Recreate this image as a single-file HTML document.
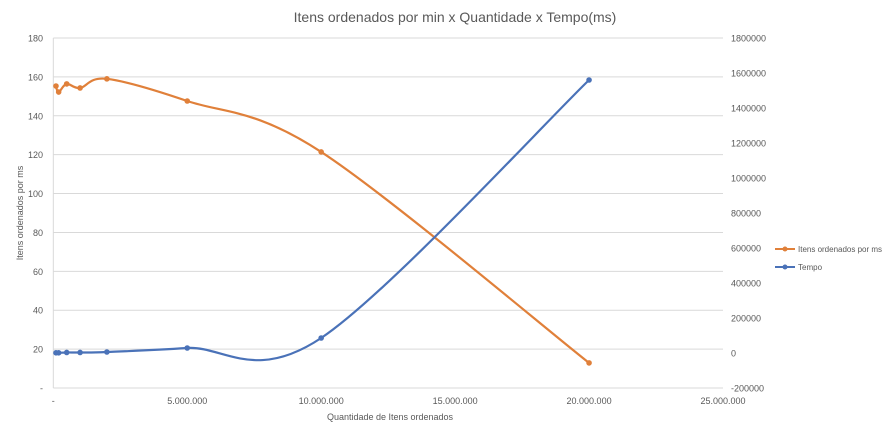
<!DOCTYPE html>
<html><head><meta charset="utf-8"><style>
body{margin:0;background:#fff;font-family:"Liberation Sans",sans-serif}
svg text{font-family:"Liberation Sans",sans-serif;fill:#595959}
</style></head><body>
<svg id="c" width="896" height="435"></svg>
<script>
const xValues=[100000,200000,500000,1000000,2000000,5000000,10000000,20000000];
const itensValues=[155.3,152.2,156.4,154.3,159,147.6,121.4,12.9];
const tempoValues=[1000,1000,3000,3000,5700,28600,85700,1560000];
const leftTicks=[0,20,40,60,80,100,120,140,160,180];
const rightTicks=[-200000,0,200000,400000,600000,800000,1000000,1200000,1400000,1600000,1800000];
const xTicks=[0,5000000,10000000,15000000,20000000,25000000];
const L=53.3,R=723,T=38,B=388;
const sx=v=>L+(v/25000000)*(R-L);
const syL=v=>B-(v/180)*(B-T);
const syR=v=>B-((v+200000)/2000000)*(B-T);
const svg=document.getElementById('c');const NS='http://www.w3.org/2000/svg';
function mk(t,a,txt){const e=document.createElementNS(NS,t);for(const k in a)e.setAttribute(k,a[k]);if(txt!=null)e.textContent=txt;svg.appendChild(e);return e;}
function fmtDot(v){return v===0?'-':v.toString().replace(/\B(?=(\d{3})+(?!\d))/g,'.');}
leftTicks.forEach(v=>{const y=syL(v);
 const g=mk('line',{x1:L,x2:R,y1:y,y2:y,stroke:'#d9d9d9','stroke-width':1});
 
 const t=mk('text',{x:43,y:y+3.5,'font-size':9,'text-anchor':'end'},v===0?'-':v);
 });
rightTicks.forEach(v=>{const t=mk('text',{x:731,y:syR(v)+3.5,'font-size':9},v);
 });
xTicks.forEach(v=>{const t=mk('text',{x:sx(v),y:404,'font-size':9,'text-anchor':'middle'},fmtDot(v));
 });
const ax=mk('line',{x1:L,x2:L,y1:T,y2:B,stroke:'#d9d9d9'});
function smooth(pts){let d=`M${pts[0][0]},${pts[0][1]}`;
 for(let i=0;i<pts.length-1;i++){const p0=pts[i-1]||pts[i],p1=pts[i],p2=pts[i+1],p3=pts[i+2]||p2;
  const c1=[p1[0]+(p2[0]-p0[0])/6,p1[1]+(p2[1]-p0[1])/6],c2=[p2[0]-(p3[0]-p1[0])/6,p2[1]-(p3[1]-p1[1])/6];
  d+=` C${c1[0]},${c1[1]} ${c2[0]},${c2[1]} ${p2[0]},${p2[1]}`;}return d;}
function series(vals,sy,col,name){const pts=xValues.map((x,i)=>[sx(x),sy(vals[i])]);
 const p=mk('path',{d:smooth(pts),fill:'none',stroke:col,'stroke-width':2.2});
 
 pts.forEach(q=>{const c=mk('circle',{cx:q[0],cy:q[1],r:2.8,fill:col});
  });}
series(itensValues,syL,'#e0803a','itens');
series(tempoValues,syR,'#4a72b8','tempo');
</script>
<svg width="896" height="435" style="position:absolute;left:0;top:0">
<text x="455" y="22" font-size="14" text-anchor="middle">Itens ordenados por min x Quantidade x Tempo(ms)</text>
<text x="390" y="420" font-size="9" text-anchor="middle">Quantidade de Itens ordenados</text>
<text transform="translate(23,213) rotate(-90)" font-size="9" text-anchor="middle">Itens ordenados por ms</text>
<g><line x1="775" x2="795" y1="249" y2="249" stroke="#e0803a" stroke-width="2"/><circle cx="785" cy="249" r="2.5" fill="#e0803a"/><text x="798" y="252" font-size="8">Itens ordenados por ms</text></g>
<g><line x1="775" x2="795" y1="267" y2="267" stroke="#4a72b8" stroke-width="2"/><circle cx="785" cy="267" r="2.5" fill="#4a72b8"/><text x="798" y="270" font-size="8">Tempo</text></g>
</svg>
</body></html>
